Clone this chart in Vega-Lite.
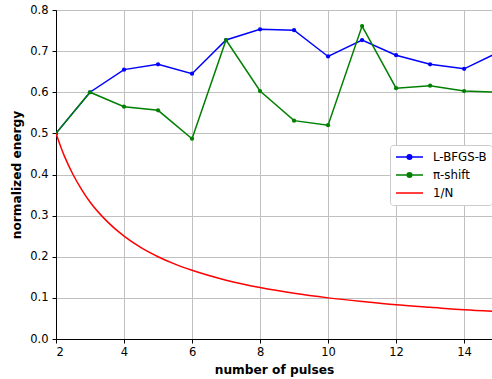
{
  "$schema": "https://vega.github.io/schema/vega-lite/v6.json",
  "width": 436,
  "height": 329,
  "autosize": {"type": "none"},
  "padding": {"left": 56, "top": 10, "right": 0, "bottom": 40},
  "background": "white",
  "config": {
    "font": "DejaVu Sans",
    "view": {"stroke": "#000000", "strokeWidth": 1},
    "axis": {
      "labelFont": "DejaVu Sans", "labelFontSize": 11.5, "labelColor": "#000000",
      "titleFont": "DejaVu Sans", "titleFontSize": 12.2, "titleFontWeight": "bold", "titleColor": "#000000",
      "domainColor": "#000000", "tickColor": "#000000", "tickSize": 4,
      "gridColor": "#c0c0c0", "gridWidth": 1
    }
  },
  "data": {"values": [
    {"n": 2, "value": 0.5, "series": "L-BFGS-B"},
    {"n": 3, "value": 0.6, "series": "L-BFGS-B"},
    {"n": 4, "value": 0.655, "series": "L-BFGS-B"},
    {"n": 5, "value": 0.668, "series": "L-BFGS-B"},
    {"n": 6, "value": 0.645, "series": "L-BFGS-B"},
    {"n": 7, "value": 0.727, "series": "L-BFGS-B"},
    {"n": 8, "value": 0.753, "series": "L-BFGS-B"},
    {"n": 9, "value": 0.751, "series": "L-BFGS-B"},
    {"n": 10, "value": 0.687, "series": "L-BFGS-B"},
    {"n": 11, "value": 0.727, "series": "L-BFGS-B"},
    {"n": 12, "value": 0.69, "series": "L-BFGS-B"},
    {"n": 13, "value": 0.668, "series": "L-BFGS-B"},
    {"n": 14, "value": 0.657, "series": "L-BFGS-B"},
    {"n": 15, "value": 0.697, "series": "L-BFGS-B"},
    {"n": 2, "value": 0.5, "series": "π-shift"},
    {"n": 3, "value": 0.6, "series": "π-shift"},
    {"n": 4, "value": 0.565, "series": "π-shift"},
    {"n": 5, "value": 0.556, "series": "π-shift"},
    {"n": 6, "value": 0.487, "series": "π-shift"},
    {"n": 7, "value": 0.727, "series": "π-shift"},
    {"n": 8, "value": 0.603, "series": "π-shift"},
    {"n": 9, "value": 0.531, "series": "π-shift"},
    {"n": 10, "value": 0.52, "series": "π-shift"},
    {"n": 11, "value": 0.761, "series": "π-shift"},
    {"n": 12, "value": 0.61, "series": "π-shift"},
    {"n": 13, "value": 0.616, "series": "π-shift"},
    {"n": 14, "value": 0.603, "series": "π-shift"},
    {"n": 15, "value": 0.6, "series": "π-shift"},
    {"n": 2, "value": 0.5, "series": "1/N"},
    {"n": 2.25, "value": 0.444, "series": "1/N"},
    {"n": 2.5, "value": 0.4, "series": "1/N"},
    {"n": 2.75, "value": 0.364, "series": "1/N"},
    {"n": 3, "value": 0.333, "series": "1/N"},
    {"n": 3.5, "value": 0.286, "series": "1/N"},
    {"n": 4, "value": 0.25, "series": "1/N"},
    {"n": 4.5, "value": 0.222, "series": "1/N"},
    {"n": 5, "value": 0.2, "series": "1/N"},
    {"n": 5.5, "value": 0.182, "series": "1/N"},
    {"n": 6, "value": 0.167, "series": "1/N"},
    {"n": 7, "value": 0.143, "series": "1/N"},
    {"n": 8, "value": 0.125, "series": "1/N"},
    {"n": 9, "value": 0.111, "series": "1/N"},
    {"n": 10, "value": 0.1, "series": "1/N"},
    {"n": 11, "value": 0.091, "series": "1/N"},
    {"n": 12, "value": 0.083, "series": "1/N"},
    {"n": 13, "value": 0.077, "series": "1/N"},
    {"n": 14, "value": 0.071, "series": "1/N"},
    {"n": 15, "value": 0.067, "series": "1/N"}
  ]},
  "encoding": {
    "x": {"field": "n", "type": "quantitative",
      "scale": {"domain": [2, 14.82], "nice": false, "zero": false},
      "axis": {"values": [2, 4, 6, 8, 10, 12, 14], "title": "number of pulses", "labelPadding": 3, "titlePadding": 6}},
    "y": {"field": "value", "type": "quantitative",
      "scale": {"domain": [0, 0.8], "nice": false},
      "axis": {"values": [0, 0.1, 0.2, 0.3, 0.4, 0.5, 0.6, 0.7, 0.8], "format": ".1f", "title": "normalized energy", "labelPadding": 4, "titlePadding": 6}},
    "color": {"field": "series", "type": "nominal",
      "scale": {"domain": ["L-BFGS-B", "π-shift", "1/N"], "range": ["#0000ff", "#008000", "#ff0000"]},
      "legend": {
        "title": null, "orient": "none", "legendX": 334, "legendY": 135,
        "fillColor": "white", "strokeColor": "#cccccc", "cornerRadius": 3, "padding": 5,
        "symbolSize": 729, "symbolStrokeWidth": 1.5, "clipHeight": 14, "rowPadding": 4,
        "labelFont": "DejaVu Sans", "labelFontSize": 11.8, "labelColor": "#000000", "labelOffset": 9,
        "encode": {"symbols": {"update": {
          "shape": {"signal": "datum.value === '1/N' ? 'M-1,0H1' : 'M-1,0H1M-0.17,0A0.17,0.17,0,1,0,0.17,0A0.17,0.17,0,1,0,-0.17,0Z'"},
          "fill": {"scale": "color", "field": "value"},
          "stroke": {"scale": "color", "field": "value"},
          "strokeWidth": {"value": 1.5},
          "opacity": {"value": 1}
        }}}
      }}
  },
  "layer": [
    {"transform": [{"filter": "datum.series === 'L-BFGS-B'"}],
     "mark": {"type": "line", "clip": true, "strokeWidth": 1.5, "point": {"filled": true, "size": 18, "opacity": 1}}},
    {"transform": [{"filter": "datum.series === 'π-shift'"}],
     "mark": {"type": "line", "clip": true, "strokeWidth": 1.5, "point": {"filled": true, "size": 18, "opacity": 1}}},
    {"transform": [{"filter": "datum.series === '1/N'"}],
     "mark": {"type": "line", "clip": true, "strokeWidth": 1.5, "interpolate": "monotone"}}
  ]
}
